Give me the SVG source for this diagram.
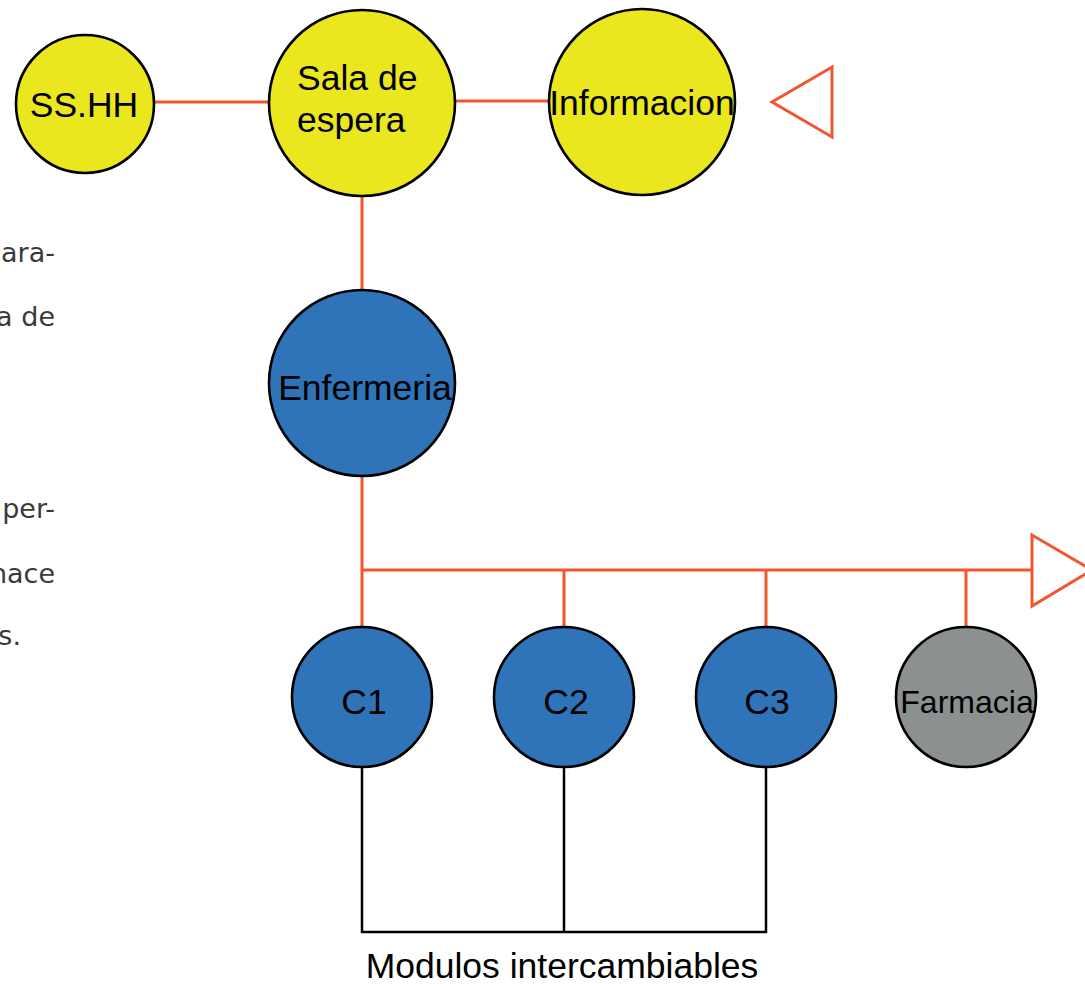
<svg xmlns="http://www.w3.org/2000/svg" width="1085" height="984" viewBox="0 0 1085 984">
  <style>
    .node { stroke: #000; stroke-width: 2.6; }
    .yellow { fill: #EAE71F; }
    .blue { fill: #2F74B9; }
    .grey { fill: #8C9091; }
    .lbl { font-family: "Liberation Sans", Arial, sans-serif; font-size: 35.5px; fill: #000; }
    .flow { stroke: #F0562F; stroke-width: 3; fill: none; }
    .bracket { stroke: #000; stroke-width: 2.5; fill: none; }
    .side { font-family: "DejaVu Sans", Verdana, sans-serif; font-size: 27px; fill: #3a3a3a; }
  </style>
  <rect width="1085" height="984" fill="#fff"/>

  <!-- side text, clipped paragraph -->
  <g id="side-text">
    <text class="side" x="55" y="262" text-anchor="end">ara-</text>
    <text class="side" x="55" y="326" text-anchor="end">a de</text>
    <text class="side" x="55" y="518" text-anchor="end">per-</text>
    <text class="side" x="55" y="583" text-anchor="end">nace</text>
    <text class="side" x="21" y="645" text-anchor="end">s.</text>
  </g>

  <!-- connectors -->
  <g id="connectors">
    <line class="flow" x1="154" y1="102" x2="269" y2="102"/>
    <line class="flow" x1="455" y1="101" x2="549" y2="101"/>
    <line class="flow" x1="362" y1="196" x2="362" y2="290"/>
    <line class="flow" x1="362" y1="477" x2="362" y2="627"/>
    <line class="flow" x1="362" y1="570" x2="1032" y2="570"/>
    <line class="flow" x1="564" y1="570" x2="564" y2="627"/>
    <line class="flow" x1="766" y1="570" x2="766" y2="627"/>
    <line class="flow" x1="966" y1="570" x2="966" y2="627"/>
    <polygon class="flow" points="772,102 832,67 832,137"/>
    <polygon class="flow" points="1032,535 1032,606 1092,570"/>
    <polyline class="bracket" points="362,767 362,932 766,932 766,767"/>
    <line class="bracket" x1="564" y1="767" x2="564" y2="932"/>
  </g>

  <g id="sshh">
    <circle class="node yellow" cx="85" cy="104" r="69"/>
    <text class="lbl" x="84" y="117" text-anchor="middle">SS.HH</text>
  </g>
  <g id="sala-espera">
    <circle class="node yellow" cx="362" cy="103" r="93"/>
    <text class="lbl" x="297" y="90">Sala de</text>
    <text class="lbl" x="297" y="132">espera</text>
  </g>
  <g id="informacion">
    <circle class="node yellow" cx="642" cy="102" r="93"/>
    <text class="lbl" x="642" y="115" text-anchor="middle">Informacion</text>
  </g>
  <g id="enfermeria">
    <circle class="node blue" cx="362" cy="383" r="93"/>
    <text class="lbl" x="365" y="400" text-anchor="middle">Enfermeria</text>
  </g>
  <g id="c1">
    <circle class="node blue" cx="362" cy="697" r="70"/>
    <text class="lbl" x="364" y="714" text-anchor="middle">C1</text>
  </g>
  <g id="c2">
    <circle class="node blue" cx="564" cy="697" r="70"/>
    <text class="lbl" x="566" y="714" text-anchor="middle">C2</text>
  </g>
  <g id="c3">
    <circle class="node blue" cx="766" cy="697" r="70"/>
    <text class="lbl" x="767" y="714" text-anchor="middle">C3</text>
  </g>
  <g id="farmacia">
    <circle class="node grey" cx="966" cy="697" r="70"/>
    <text class="lbl" x="967" y="713" text-anchor="middle" style="font-size:32px">Farmacia</text>
  </g>

  <text class="lbl" x="562" y="978" text-anchor="middle">Modulos intercambiables</text>
</svg>
